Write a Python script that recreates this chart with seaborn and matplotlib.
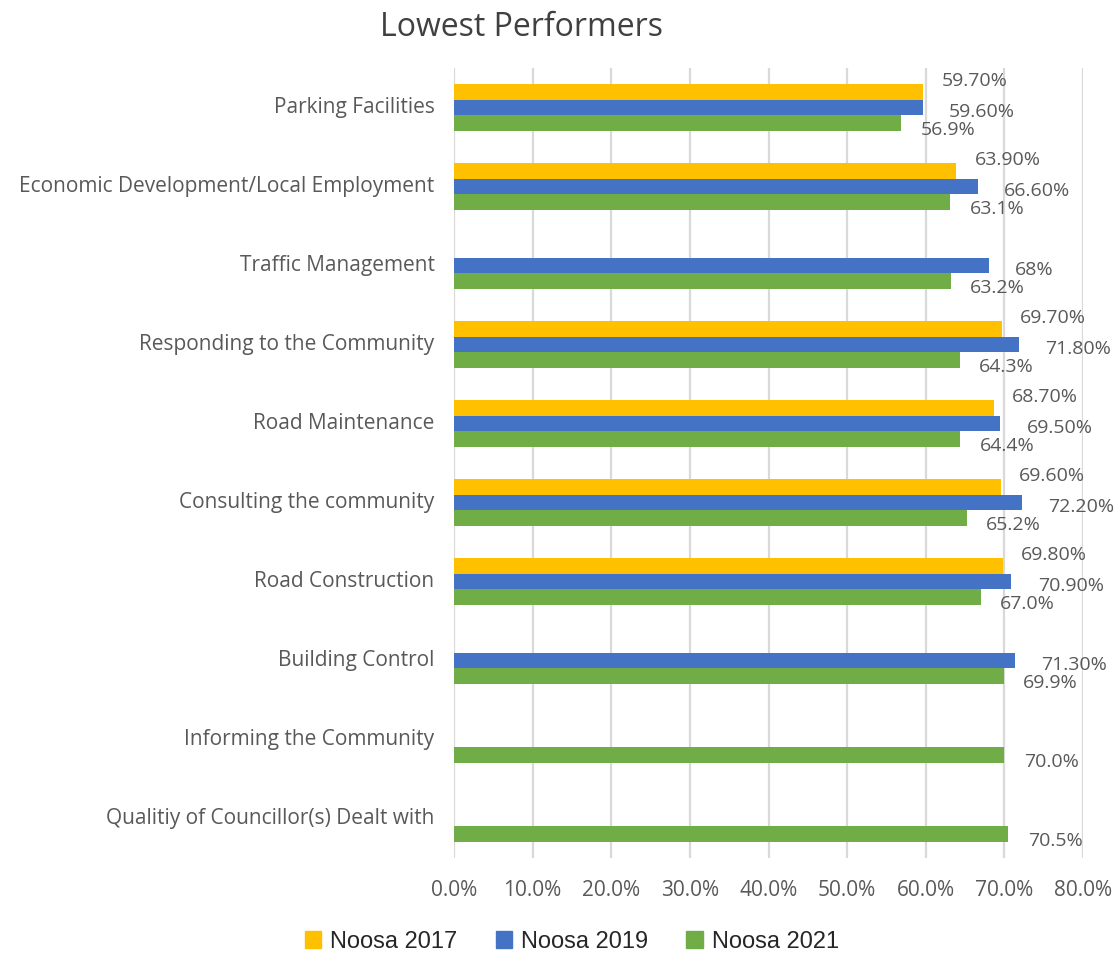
import numpy as np
import pandas as pd
import matplotlib
matplotlib.use("Agg")
import matplotlib.pyplot as plt
import seaborn as sns

# ─── Data ────────────────────────────────────────────────
categories = [
    "Parking Facilities",
    "Economic Development/Local Employment",
    "Traffic Management",
    "Responding to the Community",
    "Road Maintenance",
    "Consulting the community",
    "Road Construction",
    "Building Control",
    "Informing the Community",
    "Qualitiy of Councillor(s) Dealt with",
]
series = ["Noosa 2017", "Noosa 2019", "Noosa 2021"]

noosa_2017 = [59.7, 63.9, np.nan, 69.7, 68.7, 69.6, 69.8, np.nan, np.nan, np.nan]
noosa_2019 = [59.6, 66.6, 68.0, 71.8, 69.5, 72.2, 70.9, 71.3, np.nan, np.nan]
noosa_2021 = [56.9, 63.1, 63.2, 64.3, 64.4, 65.2, 67.0, 69.9, 70.0, 70.5]

labels_2017 = ["59.70%", "63.90%", "", "69.70%", "68.70%", "69.60%", "69.80%", "", "", ""]
labels_2019 = ["59.60%", "66.60%", "68%", "71.80%", "69.50%", "72.20%", "70.90%", "71.30%", "", ""]
labels_2021 = ["56.9%", "63.1%", "63.2%", "64.3%", "64.4%", "65.2%", "67.0%", "69.9%", "70.0%", "70.5%"]

x_ticks = [0, 10, 20, 30, 40, 50, 60, 70, 80]

# ─── Style ───────────────────────────────────────────────
YELLOW = "#FFC000"
BLUE   = "#4472C4"
GREEN  = "#70AD47"
GREY   = "#595959"
GRID   = "#D9D9D9"

sns.set_theme(style="white")
plt.rcParams["font.family"] = ["Open Sans", "DejaVu Sans"]

df = pd.DataFrame({
    "Category": categories * 3,
    "Series": sum([[s] * len(categories) for s in series], []),
    "Value": noosa_2017 + noosa_2019 + noosa_2021,
})

fig = plt.figure(figsize=(11.18, 9.56), dpi=100)
ax = fig.add_axes([454 / 1118, 1 - 858 / 956, (1083 - 454) / 1118, (858 - 68) / 956])

sns.barplot(data=df, y="Category", x="Value", hue="Series", orient="h",
            palette=[YELLOW, BLUE, GREEN], width=0.6, gap=0.0,
            saturation=1, linewidth=0, ax=ax, legend=True)

ax.set_xlim(0, 80)
ax.set_ylim(9.5, -0.5)
ax.set_xticks(x_ticks)
ax.set_xticklabels([f"{t:.1f}%" for t in x_ticks], fontsize=15, color=GREY)
ax.tick_params(axis="x", length=0, pad=16)
ax.tick_params(axis="y", length=0, pad=14)
ax.set_yticks(range(len(categories)))
ax.set_yticklabels(categories, fontsize=15, color=GREY)
for t in ax.get_yticklabels():
    t.set_verticalalignment("center")
ax.grid(axis="x", color=GRID, linewidth=1.6)
ax.set_axisbelow(True)
for sp in ax.spines.values():
    sp.set_visible(False)
ax.set_xlabel("")
ax.set_ylabel("")

# data labels, nudged like the Excel original
offsets = {0: (13, 8), 1: (19, -3), 2: (14, -5)}
all_labels = [labels_2017, labels_2019, labels_2021]
for i, cont in enumerate(ax.containers):
    for bar in cont:
        w = bar.get_width()
        if not np.isfinite(w) or w == 0:
            continue
        yc = bar.get_y() + bar.get_height() / 2
        lab = all_labels[i][int(round(yc))]
        if not lab:
            continue
        dx, dy = offsets[i]
        ax.annotate(lab, (w, yc), xytext=(dx, dy), textcoords="offset points",
                    ha="left", va="center", fontsize=14, color=GREY,
                    annotation_clip=False)

# legend at bottom
ax.get_legend().remove()
handles = [plt.Rectangle((0, 0), 1, 1, color=c) for c in [YELLOW, BLUE, GREEN]]
fig.legend(handles, series, loc="center", bbox_to_anchor=(572 / 1118, 1 - 942 / 956),
           ncol=3, frameon=False, handlelength=0.7, handleheight=0.7,
           handletextpad=0.4, columnspacing=1.6,
           prop={"family": "Liberation Sans", "size": 17})

fig.text(522 / 1118, 1 - 28 / 956, "Lowest Performers", ha="center", va="center",
         fontsize=23, color="#404040")

fig.savefig("out.png", dpi=100)
